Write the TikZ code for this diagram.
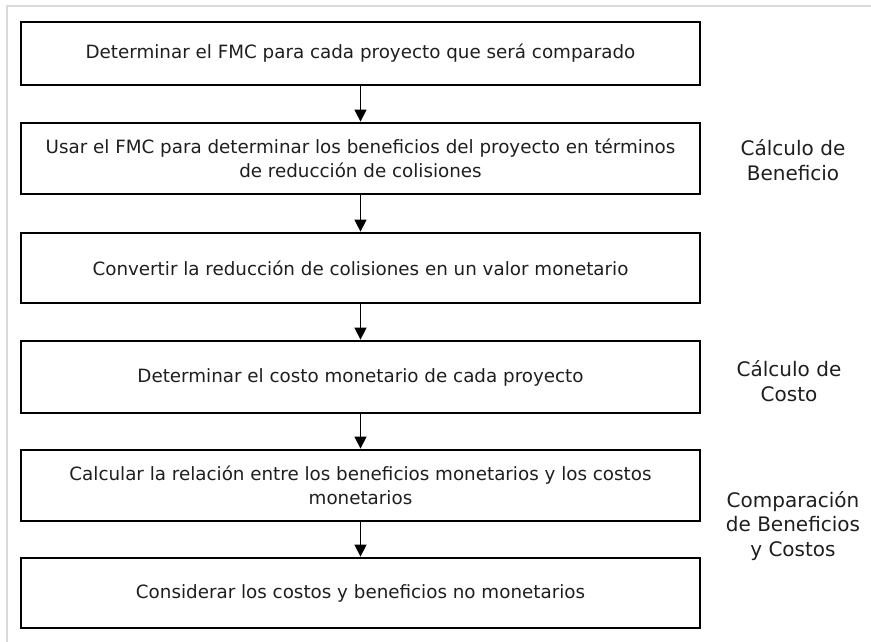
\documentclass[tikz,border=0pt]{standalone}
\usepackage{fontspec}
\setmainfont{DejaVu Sans}
\usetikzlibrary{arrows.meta,positioning}
\definecolor{framegray}{RGB}{217,217,217}
\definecolor{inkgray}{RGB}{30,30,30}

\begin{document}
\begin{tikzpicture}[
  x=1pt,y=-1pt,
  stepbox/.style={draw=black,line width=2.8pt,rectangle,minimum width=679pt,
              align=center,text=inkgray,inner sep=0pt,
              font=\fontsize{18.3}{23.5}\selectfont},
  flow/.style={-{Triangle[width=12pt,length=12pt]},line width=1.4pt,draw=black},
  phase/.style={align=center,text=inkgray,font=\fontsize{20}{24.5}\selectfont}
]
  \useasboundingbox (0,0) rectangle (871,642);
  % Outer frame
  \draw[framegray,line width=2pt] (7,646) -- (7,6) -- (875,6);

  % Steps
  \node[stepbox,minimum height=63pt] (det) at (360.5,53.5) {Determinar el FMC para cada proyecto que será comparado};
  \node[stepbox,minimum height=71pt] (ben) at (360.5,158.5) {Usar el FMC para determinar los beneficios del proyecto en términos\\de reducción de colisiones};
  \node[stepbox,minimum height=70pt] (conv) at (360.5,268) {Convertir la reducción de colisiones en un valor monetario};
  \node[stepbox,minimum height=72pt] (cost) at (360.5,377) {Determinar el costo monetario de cada proyecto};
  \node[stepbox,minimum height=71pt] (rel) at (360.5,485.5) {Calcular la relación entre los beneficios monetarios y los costos\\monetarios};
  \node[stepbox,minimum height=70pt] (cons) at (360.5,593) {Considerar los costos y beneficios no monetarios};

  % Arrows
  \foreach \a/\b in {det/ben, ben/conv, conv/cost, cost/rel, rel/cons}
    \draw[flow] (\a) -- (\b);

  % Phase labels
  \node[phase] (pben) at (793,160) {Cálculo de\\Beneficio};
  \node[phase] (pcost) at (789,381) {Cálculo de\\Costo};
  \node[phase] (pcomp) at (793,526) {Comparación\\de Beneficios\\y Costos};
\end{tikzpicture}
\end{document}
